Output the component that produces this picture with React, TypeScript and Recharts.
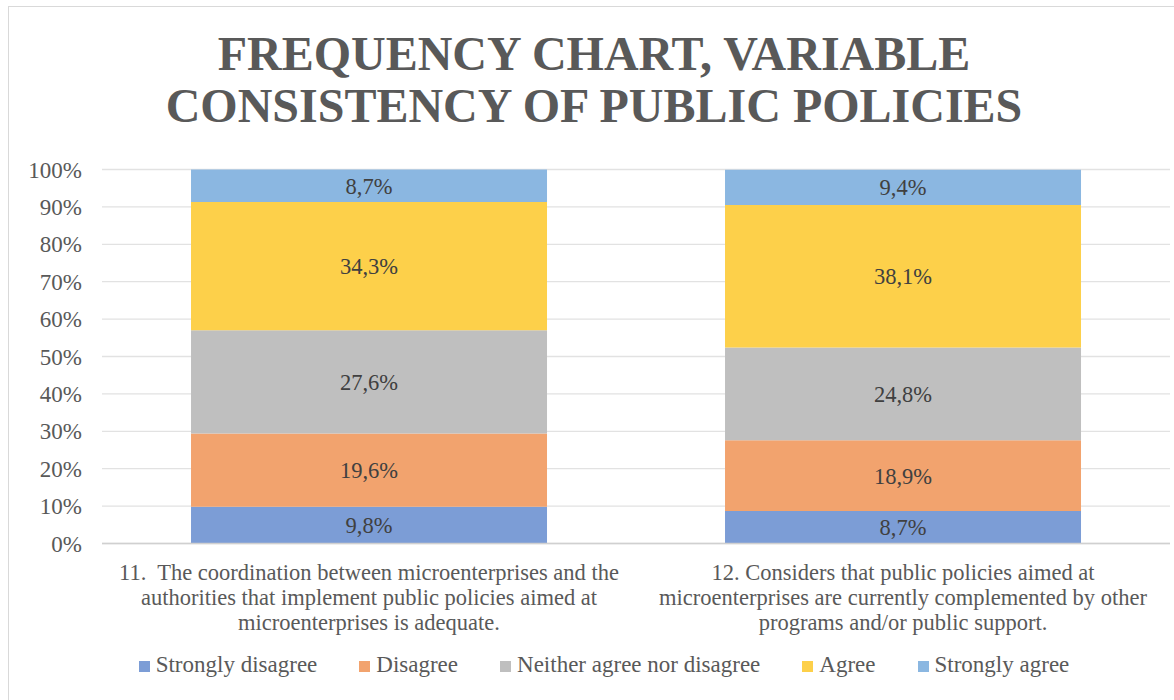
import React from 'react';
import { BarChart, Bar, XAxis, YAxis, CartesianGrid, Legend, LabelList } from 'recharts';

const TITLE_FONT = 'Tinos';
const YTICK_FONT = 'Times New Roman';
const CAT_FONT = 'serif';
const LABEL_FONT = 'Liberation Serif';
const LEGEND_FONT = 'Nimbus Roman, Liberation Serif';

const categoryLines: string[][] = [
  [
    '11.  The coordination between microenterprises and the',
    'authorities that implement public policies aimed at',
    'microenterprises is adequate.',
  ],
  [
    '12. Considers that public policies aimed at',
    'microenterprises are currently complemented by other',
    'programs and/or public support.',
  ],
];
const categories = ['11', '12'];

const seriesNames = [
  'Strongly disagree',
  'Disagree',
  'Neither agree nor disagree',
  'Agree',
  'Strongly agree',
];
const seriesKeys = ['sd', 'd', 'n', 'a', 'sa'];
const stronglyDisagree = [9.8, 8.7];
const disagree = [19.6, 18.9];
const neither = [27.6, 24.8];
const agree = [34.3, 38.1];
const stronglyAgree = [8.7, 9.4];
const seriesColors = ['#7C9DD6', '#F2A36E', '#BFBFBF', '#FDD04A', '#8BB7E1'];
const yTicks = [0, 10, 20, 30, 40, 50, 60, 70, 80, 90, 100];

const seriesValues = [stronglyDisagree, disagree, neither, agree, stronglyAgree];

const data = categories.map((c, i) => {
  const row: Record<string, any> = { name: c, idx: i };
  seriesKeys.forEach((k, s) => {
    row[k] = seriesValues[s][i];
  });
  return row;
});

const fmt = (v: any) => `${Number(v).toFixed(1).replace('.', ',')}%`;

const CategoryTick = (props: any) => {
  const { x, y, payload } = props;
  const idx = categories.indexOf(payload.value);
  const lines = categoryLines[idx] || [];
  return (
    <g>
      {lines.map((ln, i) => (
        <text
          key={i}
          x={x}
          y={y + 36 + i * 25}
          textAnchor="middle"
          fill="#595959"
          fontSize={22.5}
          fontFamily={CAT_FONT}
          style={{ whiteSpace: 'pre' }}
        >
          {ln}
        </text>
      ))}
    </g>
  );
};

const LegendContent = () => (
  <div
    style={{
      display: 'flex',
      justifyContent: 'center',
      fontFamily: LEGEND_FONT,
      fontSize: 23,
      color: '#595959',
      lineHeight: '24px',
      whiteSpace: 'nowrap',
    }}
  >
    {seriesNames.map((n, i) => (
      <div
        key={n}
        style={{ display: 'flex', alignItems: 'flex-end', marginRight: i < seriesNames.length - 1 ? 42 : 0 }}
      >
        <span
          style={{
            display: 'inline-block',
            width: 11,
            height: 11,
            background: seriesColors[i],
            marginRight: 6,
            marginBottom: 5,
          }}
        />
        <span>{n}</span>
      </div>
    ))}
  </div>
);

export default function App() {
  return (
    <div
      style={{
        position: 'absolute',
        left: 8,
        top: 6,
        width: 1166,
        height: 694,
        borderLeft: '1px solid #d9d9d9',
        borderTop: '1px solid #d9d9d9',
        boxSizing: 'border-box',
        overflow: 'hidden',
      }}
    >
      <div
        style={{
          position: 'absolute',
          left: 0,
          top: 21,
          width: 1170,
          textAlign: 'center',
          fontFamily: TITLE_FONT,
          fontWeight: 'bold',
          fontSize: 48,
          lineHeight: '52px',
          color: '#595959',
        }}
      >
        FREQUENCY CHART, VARIABLE
        <br />
        CONSISTENCY OF PUBLIC POLICIES
      </div>
      <BarChart
        width={1165}
        height={690}
        data={data}
        margin={{ top: 162.5, right: 4, bottom: 73.5, left: 0 }}
        barCategoryGap="16.67%"
      >
        <CartesianGrid vertical={false} stroke="#e2e2e2" strokeWidth={1.3} />
        <XAxis
          dataKey="name"
          tick={<CategoryTick />}
          tickLine={false}
          tickSize={0}
          tickMargin={0}
          axisLine={{ stroke: '#d0d0d0', strokeWidth: 1.5 }}
          height={80}
          interval={0}
        />
        <YAxis
          domain={[0, 100]}
          ticks={yTicks}
          tickFormatter={(v: number) => `${v}%`}
          axisLine={false}
          tickLine={false}
          tickSize={0}
          tickMargin={20}
          width={93}
          tick={{ fill: '#595959', fontSize: 23, fontFamily: YTICK_FONT }}
          interval={0}
        />
        <Legend
          layout="horizontal"
          verticalAlign="middle"
          align="center"
          wrapperStyle={{ top: 646, left: 0, width: 1190 }}
          content={<LegendContent />}
        />
        {seriesKeys.map((k, s) => (
          <Bar
            key={k}
            dataKey={k}
            name={seriesNames[s]}
            stackId="stack"
            fill={seriesColors[s]}
            isAnimationActive={false}
          >
            <LabelList
              dataKey={k}
              position="center"
              formatter={fmt}
              fill="#404040"
              fontSize={22.5}
              fontFamily={LABEL_FONT}
            />
          </Bar>
        ))}
      </BarChart>
    </div>
  );
}
